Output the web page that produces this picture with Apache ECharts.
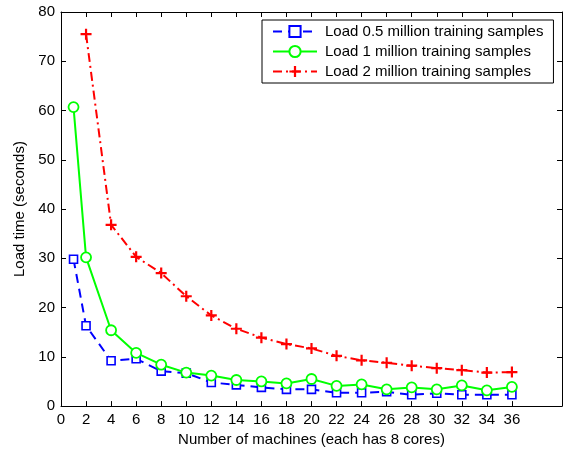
<!DOCTYPE html>
<html>
<head>
<meta charset="utf-8">
<script src="https://cdn.jsdelivr.net/npm/echarts@6/dist/echarts.min.js"></script>
<style>
  html, body { margin: 0; padding: 0; background: #fff; }
  #chart { width: 565px; height: 452px; }
</style>
</head>
<body>
<div id="chart"></div>
<script>
// 数据
var machines = [1, 2, 4, 6, 8, 10, 12, 14, 16, 18, 20, 22, 24, 26, 28, 30, 32, 34, 36]
var machines2m = [2, 4, 6, 8, 10, 12, 14, 16, 18, 20, 22, 24, 26, 28, 30, 32, 34, 36]
var load05 = [29.8, 16.3, 9.2, 9.6, 7.1, 6.7, 4.8, 4.3, 3.8, 3.4, 3.4, 2.7, 2.7, 2.9, 2.3, 2.6, 2.3, 2.3, 2.3]
var load1 = [60.7, 30.2, 15.4, 10.8, 8.4, 6.8, 6.2, 5.3, 5.0, 4.6, 5.5, 4.1, 4.4, 3.4, 3.8, 3.4, 4.2, 3.2, 3.9]
var load2 = [75.5, 36.8, 30.3, 27.0, 22.3, 18.4, 15.7, 13.9, 12.6, 11.7, 10.2, 9.3, 8.8, 8.2, 7.7, 7.3, 6.8, 6.9]
var xTicks = [0, 2, 4, 6, 8, 10, 12, 14, 16, 18, 20, 22, 24, 26, 28, 30, 32, 34, 36]
var seriesNames = ['Load 0.5 million training samples', 'Load 1 million training samples', 'Load 2 million training samples']

var font = 'Liberation Sans, Arial, sans-serif'

function pairs(xs, ys) {
  return xs.map(function(x, i) { return [x, ys[i]] })
}

var chart = echarts.init(document.getElementById('chart'))

var xBase = {
  type: 'value',
  min: 0,
  max: 40,
  interval: 2,
  axisLine: { show: true, onZero: false, lineStyle: { color: '#000', width: 1 } },
  axisTick: { show: true, inside: true, length: 5, customValues: xTicks, lineStyle: { color: '#000' } },
  splitLine: { show: false }
}
var yBase = {
  type: 'value',
  min: 0,
  max: 80,
  interval: 10,
  axisLine: { show: true, onZero: false, lineStyle: { color: '#000', width: 1 } },
  axisTick: { show: true, inside: true, length: 5, lineStyle: { color: '#000' } },
  splitLine: { show: false }
}

var option = {
  animation: false,
  backgroundColor: '#fff',
  grid: { left: 61, right: 3, top: 12, bottom: 45 },
  legend: {
    orient: 'vertical',
    left: 262,
    top: 20,
    padding: [4, 10, 4, 10],
    itemGap: 5,
    itemWidth: 44,
    itemHeight: 14,
    borderColor: '#000',
    borderWidth: 1,
    borderRadius: 0,
    backgroundColor: '#fff',
    textStyle: { fontFamily: font, fontSize: 15, color: '#000', padding: [0, 0, 0, 3] },
    data: seriesNames
  },
  xAxis: [
    Object.assign({}, xBase, {
      position: 'bottom',
      name: 'Number of machines (each has 8 cores)',
      nameLocation: 'middle',
      nameGap: 24,
      nameTextStyle: { fontFamily: font, fontSize: 15, color: '#000' },
      axisLabel: { show: true, customValues: xTicks, margin: 6, fontFamily: font, fontSize: 15, color: '#000' }
    }),
    Object.assign({}, xBase, { position: 'top', axisLabel: { show: false } })
  ],
  yAxis: [
    Object.assign({}, yBase, {
      position: 'left',
      name: 'Load time (seconds)',
      nameLocation: 'middle',
      nameGap: 32,
      nameTextStyle: { fontFamily: font, fontSize: 15, color: '#000' },
      axisLabel: { show: true, margin: 6, fontFamily: font, fontSize: 15, color: '#000' }
    }),
    Object.assign({}, yBase, { position: 'right', axisLabel: { show: false } })
  ],
  series: [
    {
      name: seriesNames[0],
      type: 'line',
      data: pairs(machines, load05),
      symbol: 'rect',
      symbolSize: 8,
      showAllSymbol: true,
      itemStyle: { color: '#fff', borderColor: '#0000ff', borderWidth: 1.6 },
      lineStyle: { color: '#0000ff', width: 2, type: [9, 6] }
    },
    {
      name: seriesNames[1],
      type: 'line',
      data: pairs(machines, load1),
      symbol: 'circle',
      symbolSize: 10,
      showAllSymbol: true,
      itemStyle: { color: '#fff', borderColor: '#00ff00', borderWidth: 1.8 },
      lineStyle: { color: '#00ff00', width: 2 }
    },
    {
      name: seriesNames[2],
      type: 'line',
      data: pairs(machines2m, load2),
      symbol: 'path://M4,0H6V4H10V6H6V10H4V6H0V4H4Z',
      symbolSize: 11,
      showAllSymbol: true,
      itemStyle: { color: '#ff0000' },
      lineStyle: { color: '#ff0000', width: 2, type: [9, 4, 2, 4] }
    }
  ]
}
chart.setOption(option)
</script>
</body>
</html>
